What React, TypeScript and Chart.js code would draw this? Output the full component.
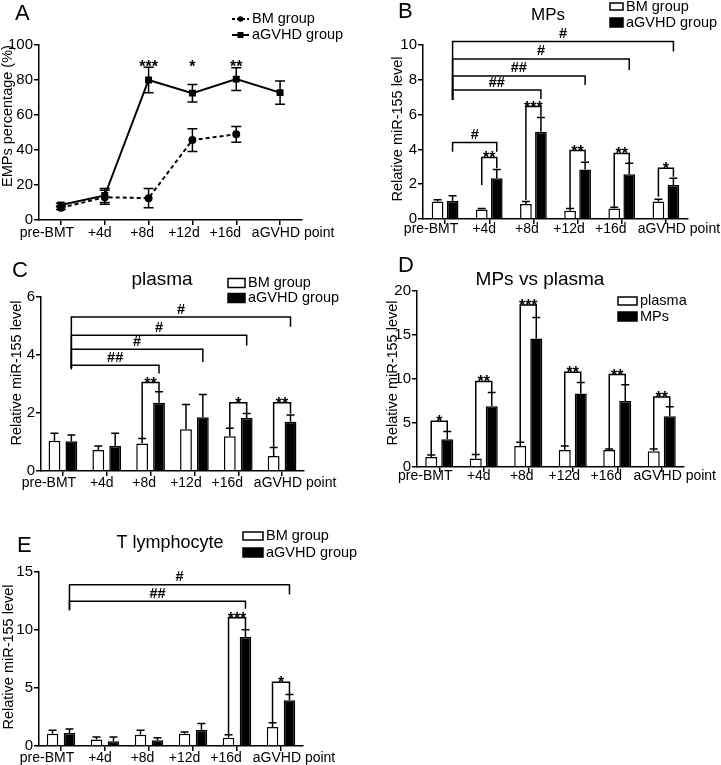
import React, { useEffect, useRef } from "react";
import { Chart, registerables } from "chart.js";

Chart.register(...registerables);

const FONT = "'Liberation Sans', Arial, Helvetica, sans-serif";
Chart.defaults.font.family = FONT;
Chart.defaults.color = "#000";

// ---------- shared categories ----------
const categories = ["pre-BMT", "+4d", "+8d", "+12d", "+16d", "aGVHD point"];

// ---------- Panel A : EMPs percentage ----------
const aTitle = "EMPs percentage (%)";
const aGVHD = [8.6, 14, 80, 72.5, 80.5, 72.8];
const aGVHDErr = [1, 4, 7.3, 5, 6.5, 6.6];
const aBM: (number | null)[] = [7, 13, 12.5, 45.7, 49, null];
const aBMErr: (number | null)[] = [1, 4, 5.5, 6.5, 4.5, null];
const aStars = ["", "", "***", "*", "**", ""];
const aStarLevel = 88;

// ---------- Panel B : MPs ----------
const bBM = [1.0, 0.55, 0.86, 0.48, 0.61, 1.0];
const bBMErr = [0.1, 0.06, 0.14, 0.13, 0.06, 0.13];
const bGVHD = [1.03, 2.34, 5.02, 2.85, 2.57, 1.95];
const bGVHDErr = [0.31, 0.51, 0.82, 0.41, 0.63, 0.39];

type Bracket = { a: [number, number]; b: [number, number]; y: number; yl: number; yr: number; label: string };

const bBrackets: Bracket[] = [
  { a: [0, 1], b: [5, 1], y: 10.2, yl: 6.84, yr: 9.62, label: "#" },
  { a: [0, 1], b: [4, 1], y: 9.2, yl: 6.84, yr: 8.56, label: "#" },
  { a: [0, 1], b: [3, 1], y: 8.22, yl: 6.84, yr: 7.7, label: "##" },
  { a: [0, 1], b: [2, 1], y: 7.41, yl: 6.84, yr: 6.9, label: "##" },
  { a: [0, 1], b: [1, 1], y: 4.39, yl: 3.87, yr: 3.87, label: "#" },
  { a: [1, 0], b: [1, 1], y: 3.54, yl: 1.95, yr: 2.91, label: "**" },
  { a: [2, 0], b: [2, 1], y: 6.46, yl: 1.09, yr: 5.88, label: "***" },
  { a: [3, 0], b: [3, 1], y: 3.93, yl: 0.61, yr: 3.3, label: "**" },
  { a: [4, 0], b: [4, 1], y: 3.77, yl: 0.71, yr: 3.2, label: "**" },
  { a: [5, 0], b: [5, 1], y: 2.91, yl: 1.28, yr: 2.43, label: "*" },
];

// ---------- Panel C : plasma ----------
const cBM = [1.04, 0.72, 0.95, 1.44, 1.2, 0.52];
const cBMErr = [0.26, 0.14, 0.17, 0.85, 0.27, 0.29];
const cGVHD = [1.03, 0.86, 2.35, 1.85, 1.83, 1.7];
const cGVHDErr = [0.21, 0.44, 0.38, 0.79, 0.15, 0.23];
const cBrackets: Bracket[] = [
  { a: [0, 1], b: [5, 1], y: 5.31, yl: 3.55, yr: 4.97, label: "#" },
  { a: [0, 1], b: [4, 1], y: 4.68, yl: 3.55, yr: 4.33, label: "#" },
  { a: [0, 1], b: [3, 1], y: 4.2, yl: 3.55, yr: 3.76, label: "#" },
  { a: [0, 1], b: [2, 1], y: 3.65, yl: 3.5, yr: 3.36, label: "##" },
  { a: [2, 0], b: [2, 1], y: 3.05, yl: 1.12, yr: 2.73, label: "**" },
  { a: [4, 0], b: [4, 1], y: 2.35, yl: 1.47, yr: 2.0, label: "*" },
  { a: [5, 0], b: [5, 1], y: 2.35, yl: 0.84, yr: 1.98, label: "**" },
];

// ---------- Panel D : MPs vs plasma ----------
const dPlasma = [1.15, 0.96, 2.38, 1.92, 1.92, 1.8];
const dPlasmaErr = [0.2, 0.46, 0.42, 0.46, 0.12, 0.24];
const dMPs = [3.15, 6.9, 14.6, 8.35, 7.5, 5.77];
const dMPsErr = [0.89, 1.56, 2.4, 1.25, 1.85, 1.08];
const dBrackets: Bracket[] = [
  { a: [0, 0], b: [0, 1], y: 5.19, yl: 1.35, yr: 4.04, label: "*" },
  { a: [1, 0], b: [1, 1], y: 9.73, yl: 1.42, yr: 8.38, label: "**" },
  { a: [2, 0], b: [2, 1], y: 18.4, yl: 2.8, yr: 17, label: "***" },
  { a: [3, 0], b: [3, 1], y: 10.77, yl: 2.38, yr: 9.6, label: "**" },
  { a: [4, 0], b: [4, 1], y: 10.5, yl: 2.04, yr: 9.35, label: "**" },
  { a: [5, 0], b: [5, 1], y: 7.96, yl: 2.04, yr: 6.85, label: "**" },
];

// ---------- Panel E : T lymphocyte ----------
const eBM = [1.06, 0.57, 0.98, 1.06, 0.72, 1.64];
const eBMErr = [0.29, 0.21, 0.37, 0.14, 0.26, 0.36];
const eGVHD = [1.12, 0.4, 0.49, 1.41, 9.4, 3.94];
const eGVHDErr = [0.35, 0.38, 0.23, 0.52, 0.63, 0.51];
const eBrackets: Bracket[] = [
  { a: [0, 1], b: [5, 1], y: 13.9, yl: 11.7, yr: 13.05, label: "#" },
  { a: [0, 1], b: [4, 1], y: 12.47, yl: 11.7, yr: 11.84, label: "##" },
  { a: [4, 0], b: [4, 1], y: 11.06, yl: 0.98, yr: 10.03, label: "***" },
  { a: [5, 0], b: [5, 1], y: 5.5, yl: 2.0, yr: 4.45, label: "*" },
];

const yTitle = "Relative miR-155 level";

// horizontal shift of each category label relative to its tick (style)
const xLabelShift = [-14, -5, -6.5, -8.5, -11, 13];

// ---------- drawing helpers ----------
function drawMark(ctx: CanvasRenderingContext2D, label: string, x: number, lineY: number) {
  ctx.textAlign = "center";
  ctx.textBaseline = "alphabetic";
  ctx.fillStyle = "#000";
  if (label.includes("*")) {
    ctx.font = `bold 16px ${FONT}`;
    ctx.fillText(label, x, lineY + 6);
  } else {
    ctx.font = `bold 14.5px ${FONT}`;
    ctx.fillText(label, x, lineY - 3.5);
  }
}

const extras = {
  id: "extras",
  afterDatasetsDraw(chart: any, _args: any, o: any) {
    const ctx: CanvasRenderingContext2D = chart.ctx;
    const ys = chart.scales.y;
    const xs = chart.scales.x;
    const [ox, oy] = o.origin;
    ctx.save();
    ctx.strokeStyle = "#000";
    ctx.fillStyle = "#000";
    ctx.lineWidth = 1.5;
    ctx.setLineDash([]);
    (o.errors || []).forEach((errs: (number | null)[], di: number) => {
      const meta = chart.getDatasetMeta(di);
      const vals = chart.data.datasets[di].data;
      errs.forEach((e, i) => {
        const v = vals[i];
        if (e == null || v == null) return;
        const el = meta.data[i];
        const x = el.x;
        const top = ys.getPixelForValue(v + e);
        const bot = o.twoSided ? ys.getPixelForValue(v - e) : el.y;
        ctx.beginPath();
        ctx.moveTo(x, bot);
        ctx.lineTo(x, top);
        ctx.moveTo(x - o.cap / 2, top);
        ctx.lineTo(x + o.cap / 2, top);
        if (o.twoSided) {
          ctx.moveTo(x - o.cap / 2, bot);
          ctx.lineTo(x + o.cap / 2, bot);
        }
        ctx.stroke();
      });
    });
    (o.brackets || []).forEach((b: Bracket) => {
      const x1 = chart.getDatasetMeta(b.a[1]).data[b.a[0]].x;
      const x2 = chart.getDatasetMeta(b.b[1]).data[b.b[0]].x;
      const py = ys.getPixelForValue(b.y);
      ctx.beginPath();
      ctx.moveTo(x1, ys.getPixelForValue(b.yl));
      ctx.lineTo(x1, py);
      ctx.lineTo(x2, py);
      ctx.lineTo(x2, ys.getPixelForValue(b.yr));
      ctx.stroke();
      drawMark(ctx, b.label, (x1 + x2) / 2, py);
    });
    if (o.stars) {
      const meta = chart.getDatasetMeta(o.stars.ds);
      o.stars.labels.forEach((s: string, i: number) => {
        if (!s) return;
        drawMark(ctx, s, meta.data[i].x, ys.getPixelForValue(o.stars.level));
      });
    }
    // category labels
    ctx.fillStyle = "#000";
    ctx.font = `14px ${FONT}`;
    ctx.textAlign = "center";
    ctx.textBaseline = "alphabetic";
    chart.data.labels.forEach((lab: string, i: number) => {
      const x = xs.getPixelForTick(i) + (xLabelShift[i] || 0);
      ctx.fillText(lab, x, chart.chartArea.bottom + o.xLabelDy);
    });
    // y title
    if (o.yTitle) {
      ctx.save();
      ctx.translate(o.yTitle.x - ox, o.yTitle.y - oy);
      ctx.rotate(-Math.PI / 2);
      ctx.font = `14.5px ${FONT}`;
      ctx.textAlign = "center";
      ctx.textBaseline = "middle";
      ctx.fillText(o.yTitle.text, 0, 0);
      ctx.restore();
    }
    (o.legend || []).forEach((it: any) => {
      const x = it.x - ox;
      const y = it.y - oy;
      ctx.lineWidth = 1.5;
      ctx.strokeStyle = "#000";
      if (it.kind === "box") {
        ctx.fillStyle = it.fill;
        ctx.fillRect(x, y - it.h / 2, it.w, it.h);
        ctx.strokeRect(x, y - it.h / 2, it.w, it.h);
      } else {
        ctx.setLineDash(it.dash || []);
        ctx.lineWidth = 2;
        ctx.beginPath();
        ctx.moveTo(x, y);
        ctx.lineTo(x + it.w, y);
        ctx.stroke();
        ctx.setLineDash([]);
        ctx.fillStyle = "#000";
        const cx = x + it.w / 2;
        if (it.marker === "rect") ctx.fillRect(cx - 3, y - 3, 6, 6);
        else {
          ctx.beginPath();
          ctx.arc(cx, y, 2.8, 0, Math.PI * 2);
          ctx.fill();
        }
      }
      ctx.fillStyle = "#000";
      ctx.font = `14.5px ${FONT}`;
      ctx.textAlign = "left";
      ctx.textBaseline = "middle";
      ctx.fillText(it.text, x + it.w + 3, y);
    });
    (o.texts || []).forEach((t: any) => {
      ctx.fillStyle = "#000";
      ctx.font = `${t.size}px ${FONT}`;
      ctx.textAlign = "center";
      ctx.textBaseline = "middle";
      ctx.fillText(t.text, t.x - ox, t.y - oy);
    });
    ctx.restore();
  },
};

type Rect = { x: number; y: number; w: number; h: number };
type Area = { left: number; top: number; right: number; bottom: number };

function scalesFor(p: { yAxisW: number; xAxisH: number; max: number; step: number }) {
  return {
    x: {
      type: "category",
      offset: true,
      grid: { display: true, offset: false, drawOnChartArea: false, drawTicks: true, tickLength: 5, color: "#000", lineWidth: 1.5 },
      border: { display: true, color: "#000", width: 1.5 },
      ticks: { display: false, autoSkip: false },
      afterFit: (s: any) => {
        s.height = p.xAxisH;
      },
    },
    y: {
      min: 0,
      max: p.max,
      ticks: { stepSize: p.step, font: { size: 15 }, color: "#000", padding: 1 },
      grid: { display: true, drawOnChartArea: false, drawTicks: true, tickLength: 5, color: "#000", lineWidth: 1.5 },
      border: { display: true, color: "#000", width: 1.5 },
      title: { display: false },
      afterFit: (s: any) => {
        s.width = p.yAxisW;
      },
    },
  };
}

function paddingFor(canvas: Rect, area: Area, yAxisW: number, xAxisH: number) {
  return {
    left: area.left - canvas.x - yAxisW,
    top: area.top - canvas.y,
    right: canvas.x + canvas.w - area.right,
    bottom: canvas.y + canvas.h - area.bottom - xAxisH,
  };
}

type PanelSpec = { canvas: Rect; config: any };

function barPanel(args: {
  canvas: Rect;
  area: Area;
  yAxisW: number;
  xAxisH: number;
  xLabelDy: number;
  max: number;
  step: number;
  labels: [string, string];
  s0: number[];
  s0Err: number[];
  s1: number[];
  s1Err: number[];
  brackets: Bracket[];
  catPct: number;
  barPct: number;
  legend: any[];
  texts: any[];
  yTitlePos: [number, number];
}): PanelSpec {
  const { canvas, area, yAxisW, xAxisH } = args;
  return {
    canvas,
    config: {
      type: "bar",
      data: {
        labels: categories,
        datasets: [
          {
            label: args.labels[0],
            data: args.s0,
            backgroundColor: "#fff",
            borderColor: "#000",
            borderWidth: 1.5,
            categoryPercentage: args.catPct,
            barPercentage: args.barPct,
          },
          {
            label: args.labels[1],
            data: args.s1,
            backgroundColor: "#000",
            borderColor: "#000",
            borderWidth: 1.5,
            categoryPercentage: args.catPct,
            barPercentage: args.barPct,
          },
        ],
      },
      options: {
        responsive: false,
        animation: false,
        events: [],
        layout: { padding: paddingFor(canvas, area, yAxisW, xAxisH) },
        scales: scalesFor({ yAxisW, xAxisH, max: args.max, step: args.step }),
        plugins: {
          legend: { display: false },
          tooltip: { enabled: false },
          title: { display: false },
          extras: {
            origin: [canvas.x, canvas.y],
            errors: [args.s0Err, args.s1Err],
            twoSided: false,
            cap: 8,
            brackets: args.brackets,
            legend: args.legend,
            texts: args.texts,
            xLabelDy: args.xLabelDy,
            yTitle: { text: yTitle, x: args.yTitlePos[0], y: args.yTitlePos[1] },
          },
        },
      },
      plugins: [extras],
    },
  };
}

// ---------- panel specs ----------
const canvasA: Rect = { x: 0, y: 0, w: 360, h: 250 };
const areaA: Area = { left: 39, top: 45, right: 302, bottom: 220 };
const panelA: PanelSpec = {
  canvas: canvasA,
  config: {
    type: "line",
    data: {
      labels: categories,
      datasets: [
        {
          label: "aGVHD group",
          data: aGVHD,
          borderColor: "#000",
          backgroundColor: "#000",
          borderWidth: 2,
          pointStyle: "rect",
          pointRadius: 3.5,
          pointBackgroundColor: "#000",
          pointBorderColor: "#000",
          tension: 0,
          fill: false,
        },
        {
          label: "BM group",
          data: aBM,
          borderColor: "#000",
          backgroundColor: "#000",
          borderWidth: 2,
          borderDash: [4, 3],
          pointStyle: "circle",
          pointRadius: 3,
          pointBackgroundColor: "#000",
          pointBorderColor: "#000",
          tension: 0,
          fill: false,
        },
      ],
    },
    options: {
      responsive: false,
      animation: false,
      events: [],
      layout: { padding: paddingFor(canvasA, areaA, 39, 30) },
      scales: scalesFor({ yAxisW: 39, xAxisH: 30, max: 100, step: 20 }),
      plugins: {
        legend: { display: false },
        tooltip: { enabled: false },
        title: { display: false },
        extras: {
          origin: [canvasA.x, canvasA.y],
          errors: [aGVHDErr, aBMErr],
          twoSided: true,
          cap: 10,
          stars: { ds: 0, labels: aStars, level: aStarLevel },
          xLabelDy: 17,
          yTitle: { text: aTitle, x: 7.5, y: 116 },
          legend: [
            { kind: "line", dash: [3, 2], marker: "circle", x: 232, y: 19, w: 17, text: "BM group" },
            { kind: "line", marker: "rect", x: 232, y: 35, w: 17, text: "aGVHD group" },
          ],
          texts: [],
        },
      },
    },
    plugins: [extras],
  },
};

const panelB = barPanel({
  canvas: { x: 389, y: 0, w: 332, h: 250 },
  area: { left: 423, top: 45, right: 688, bottom: 219 },
  yAxisW: 34,
  xAxisH: 30,
  xLabelDy: 14,
  max: 10,
  step: 2,
  labels: ["BM group", "aGVHD group"],
  s0: bBM,
  s0Err: bBMErr,
  s1: bGVHD,
  s1Err: bGVHDErr,
  brackets: bBrackets,
  catPct: 0.68,
  barPct: 0.78,
  legend: [
    { kind: "box", fill: "#fff", x: 610, y: 6.5, w: 13, h: 7, text: "BM group" },
    { kind: "box", fill: "#000", x: 610, y: 22.5, w: 13, h: 9, text: "aGVHD group" },
  ],
  texts: [{ text: "MPs", x: 548, y: 15, size: 17 }],
  yTitlePos: [397.5, 129],
});

const panelC = barPanel({
  canvas: { x: 8, y: 252, w: 352, h: 250 },
  area: { left: 41, top: 297, right: 304, bottom: 471 },
  yAxisW: 33,
  xAxisH: 30,
  xLabelDy: 16,
  max: 6,
  step: 2,
  labels: ["BM group", "aGVHD group"],
  s0: cBM,
  s0Err: cBMErr,
  s1: cGVHD,
  s1Err: cGVHDErr,
  brackets: cBrackets,
  catPct: 0.77,
  barPct: 0.7,
  legend: [
    { kind: "box", fill: "#fff", x: 228, y: 283, w: 17, h: 9, text: "BM group" },
    { kind: "box", fill: "#000", x: 228, y: 298, w: 17, h: 9, text: "aGVHD group" },
  ],
  texts: [{ text: "plasma", x: 162, y: 280, size: 19 }],
  yTitlePos: [16.5, 373],
});

const panelD = barPanel({
  canvas: { x: 384, y: 252, w: 337, h: 250 },
  area: { left: 417, top: 291, right: 684, bottom: 467 },
  yAxisW: 33,
  xAxisH: 30,
  xLabelDy: 13,
  max: 20,
  step: 5,
  labels: ["plasma", "MPs"],
  s0: dPlasma,
  s0Err: dPlasmaErr,
  s1: dMPs,
  s1Err: dMPsErr,
  brackets: dBrackets,
  catPct: 0.72,
  barPct: 0.75,
  legend: [
    { kind: "box", fill: "#fff", x: 618, y: 301, w: 19, h: 8, text: "plasma" },
    { kind: "box", fill: "#000", x: 618, y: 316.5, w: 19, h: 9, text: "MPs" },
  ],
  texts: [{ text: "MPs vs plasma", x: 540, y: 280, size: 19 }],
  yTitlePos: [392.5, 373],
});

const panelE = barPanel({
  canvas: { x: 0, y: 515, w: 360, h: 250 },
  area: { left: 39, top: 572, right: 303, bottom: 746 },
  yAxisW: 39,
  xAxisH: 19,
  xLabelDy: 16,
  max: 15,
  step: 5,
  labels: ["BM group", "aGVHD group"],
  s0: eBM,
  s0Err: eBMErr,
  s1: eGVHD,
  s1Err: eGVHDErr,
  brackets: eBrackets,
  catPct: 0.77,
  barPct: 0.68,
  legend: [
    { kind: "box", fill: "#fff", x: 243, y: 536, w: 20, h: 8, text: "BM group" },
    { kind: "box", fill: "#000", x: 243, y: 552.5, w: 20, h: 9, text: "aGVHD group" },
  ],
  texts: [{ text: "T lymphocyte", x: 170, y: 543, size: 18 }],
  yTitlePos: [9, 657],
});

const panels: PanelSpec[] = [panelA, panelB, panelC, panelD, panelE];

const letters = [
  { t: "A", x: 15, y: 2 },
  { t: "B", x: 398, y: 0 },
  { t: "C", x: 12, y: 259 },
  { t: "D", x: 398, y: 254 },
  { t: "E", x: 17, y: 534 },
];

function ChartCanvas({ spec }: { spec: PanelSpec }) {
  const ref = useRef<HTMLCanvasElement | null>(null);
  useEffect(() => {
    if (!ref.current) return;
    const chart = new Chart(ref.current, spec.config);
    return () => chart.destroy();
  }, [spec]);
  const c = spec.canvas;
  return (
    <canvas
      ref={ref}
      width={c.w}
      height={c.h}
      style={{ position: "absolute", left: c.x, top: c.y, width: c.w, height: c.h }}
    />
  );
}

export default function App() {
  return (
    <div
      style={{
        position: "absolute",
        left: 0,
        top: 0,
        width: 721,
        height: 765,
        background: "#fff",
        overflow: "hidden",
        fontFamily: FONT,
      }}
    >
      {panels.map((p, i) => (
        <ChartCanvas key={i} spec={p} />
      ))}
      {letters.map((l) => (
        <div
          key={l.t}
          style={{ position: "absolute", left: l.x, top: l.y, fontSize: 22, lineHeight: "22px", color: "#000" }}
        >
          {l.t}
        </div>
      ))}
    </div>
  );
}
